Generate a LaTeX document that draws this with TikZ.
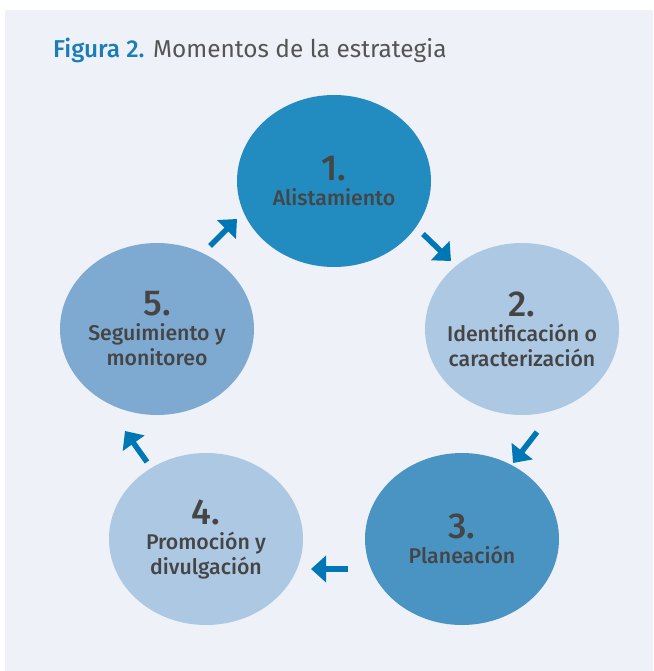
\documentclass[tikz,border=0pt]{standalone}
\usepackage{fontspec}
\setmainfont{Fira Sans}
\newfontfamily\medfont{Fira Sans Medium}
\usetikzlibrary{shapes.geometric,arrows.meta}

\definecolor{panelbg}{HTML}{EEF1F8}
\definecolor{stageA}{HTML}{228BC0}
\definecolor{stageB}{HTML}{ADC8E2}
\definecolor{stageC}{HTML}{4A94C4}
\definecolor{stageD}{HTML}{7EAAD2}
\definecolor{arrowblue}{HTML}{0077B5}
\definecolor{textgray}{HTML}{454545}
\definecolor{titleblue}{HTML}{1A7DB8}
\definecolor{titlegray}{HTML}{555555}

\begin{document}
\begin{tikzpicture}[x=1pt,y=-1pt,
    stage/.style={ellipse, minimum width=194pt, minimum height=172pt, inner sep=0pt},
    stagetext/.style={align=center, text=textgray, font=\medfont\fontsize{21.3}{25}\selectfont},
    cyclearrow/.style={line width=5.5pt, draw=arrowblue, -{Triangle[width=26pt,length=15pt]}}]

    % Page and panel
    \useasboundingbox (0,0) rectangle (653,671);
    \fill[white] (0,0) rectangle (653,671);
    \fill[panelbg] (5,10) rectangle (653,671);

    % Title
    \node[anchor=base west, inner sep=0pt, font=\fontsize{24.4}{28}\selectfont] (title) at (53,58)
        {{\medfont\color{titleblue}Figura 2.} \color{titlegray}Momentos de la estrategia};

    % Draw the stages
    \node[stage, fill=stageA] (s1) at (334,181) {};
    \node[stage, fill=stageB] (s2) at (522,329) {};
    \node[stage, fill=stageC] (s3) at (462,539) {};
    \node[stage, fill=stageB] (s4) at (206,539) {};
    \node[stage, fill=stageD] (s5) at (157,329) {};

    % Add labels
    \node[stagetext] (t1) at (s1) {{\fontsize{36}{25}\selectfont 1.}\\Alistamiento};
    \node[stagetext] (t2) at (s2) {{\fontsize{36}{25}\selectfont 2.}\\Identificación o\\caracterización};
    \node[stagetext] (t3) at (s3) {{\fontsize{36}{25}\selectfont 3.}\\Planeación};
    \node[stagetext] (t4) at (s4) {{\fontsize{36}{25}\selectfont 4.}\\Promoción y\\divulgación};
    \node[stagetext] (t5) at (s5) {{\fontsize{36}{25}\selectfont 5.}\\Seguimiento y\\monitoreo};

    % Arrow ends
    \coordinate (a12) at (423,234); \coordinate (b12) at (451,261);
    \coordinate (a23) at (537,432); \coordinate (b23) at (513,463);
    \coordinate (a34) at (348,569); \coordinate (b34) at (311,569);
    \coordinate (a45) at (147,462); \coordinate (b45) at (125,431);
    \coordinate (a51) at (210,246); \coordinate (b51) at (237,219);

    % Draw arrows
    \draw[cyclearrow] (a12) -- (b12);
    \draw[cyclearrow] (a23) -- (b23);
    \draw[cyclearrow] (a34) -- (b34);
    \draw[cyclearrow] (a45) -- (b45);
    \draw[cyclearrow] (a51) -- (b51);

\end{tikzpicture}
\end{document}
